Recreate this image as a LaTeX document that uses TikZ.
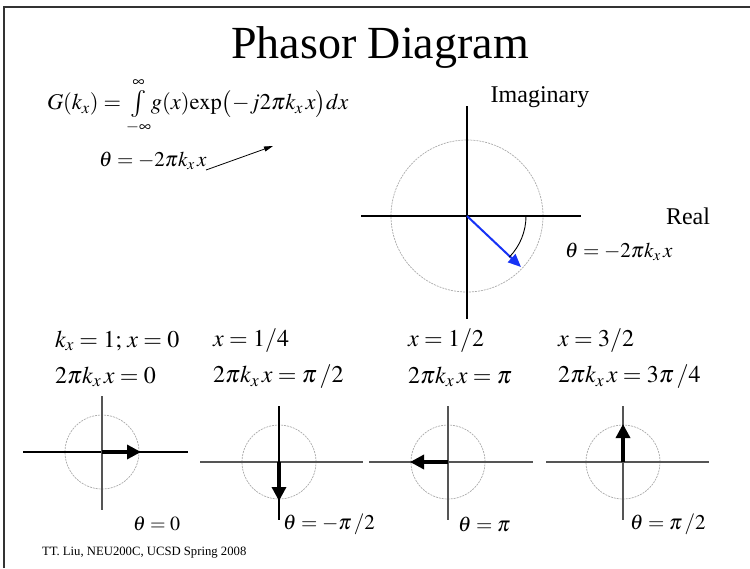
\documentclass[tikz,border=0pt]{standalone}
\usepackage{mathptmx}
\usepackage{fontspec}
\setmainfont{Liberation Serif}
\usetikzlibrary{arrows.meta}
\definecolor{framegray}{HTML}{333333}
\definecolor{circgray}{HTML}{AAAAAA}
\definecolor{axgray}{HTML}{555555}
\definecolor{phblue}{HTML}{1733F5}
\newcommand{\bigintegral}{\mathop{\vcenter{\hbox{\fontsize{27}{27}\selectfont$\int$}}}\limits}
\begin{document}
\begin{tikzpicture}[x=1pt,y=1pt,
  txt/.style={inner sep=0pt,outer sep=0pt},
  bigtxt/.style={txt,font=\fontsize{24}{28}\selectfont},
  midtxt/.style={txt,font=\fontsize{21}{25}\selectfont},
  unitcirc/.style={draw=circgray,line width=0.7pt,dash pattern=on 2pt off 1pt},
  mainaxis/.style={draw=black,line width=1.1pt},
  smallaxis/.style={draw=axgray,line width=1.3pt},
  phasor/.style={draw=black,line width=3.3pt,-{Triangle[length=14pt,width=14pt]}},
  bluephasor/.style={draw=phblue,line width=2pt,-{Triangle[length=13pt,width=11pt]}},
  pointer/.style={draw=black,line width=0.8pt,-{Triangle[length=9pt,width=5pt]}}]
\useasboundingbox (0,0) rectangle (750,-568);
% frame
\draw[framegray,line width=1.5pt] (4,-568) -- (4,-7) -- (750,-7);
% title
\node[txt,font=\fontsize{46}{52}\selectfont] (title) at (380,-48) {Phasor Diagram};
% equation
\node[txt,font=\fontsize{22.5}{27}\selectfont,anchor=west] (eq) at (47,-106) {$\thickmuskip=4mu G(k_x)=\bigintegral_{-\infty}^{\infty}\! g(x)\mathrm{exp}\bigl(-j2\pi k_x\, x\bigr)dx$};
\node[midtxt,anchor=west] (thlab) at (99,-161) {$\theta=-2\pi k_x\, x$};
\coordinate (ptr0) at (206,-170);
\coordinate (ptr1) at (273,-146);
\draw[pointer] (ptr0) -- (ptr1);
% main phasor diagram
\coordinate (O) at (467,-216);
\draw[unitcirc] (O) circle (76);
\coordinate (hl) at (361,-216);
\coordinate (hr) at (581,-216);
\coordinate (vt) at (467,-106);
\coordinate (vb) at (467,-319);
\draw[mainaxis] (hl) -- (hr);
\draw[mainaxis] (vt) -- (vb);
\coordinate (P) at (521,-267);
\draw[bluephasor] (O) -- (P);
\draw[black,line width=0.9pt] (526,-216) arc[start angle=0,end angle=-44,radius=59];
\node[bigtxt] (imag) at (540,-97) {Imaginary};
\node[bigtxt] (real) at (688,-216) {Real};
\node[midtxt,anchor=west] (thmain) at (565,-252) {$\theta=-2\pi k_x\, x$};
% labels row
\node[bigtxt,anchor=west] (l1a) at (55,-341) {$k_x=1;\,x=0$};
\node[bigtxt,anchor=west] (l1b) at (55,-377) {$2\pi k_x\, x=0$};
\node[bigtxt,anchor=west] (l2a) at (213,-341) {$x=1/4$};
\node[bigtxt,anchor=west] (l2b) at (213,-377) {$2\pi k_x\, x=\pi\,/2$};
\node[bigtxt,anchor=west] (l3a) at (408,-341) {$x=1/2$};
\node[bigtxt,anchor=west] (l3b) at (408,-377) {$2\pi k_x\, x=\pi$};
\node[bigtxt,anchor=west] (l4a) at (558,-341) {$x=3/2$};
\node[bigtxt,anchor=west] (l4b) at (558,-377) {$2\pi k_x\, x=3\pi\,/4$};
% small diagram 1
\coordinate (c1) at (102,-452);
\draw[unitcirc] (c1) circle (37);
\coordinate (c1l) at (23,-452);
\coordinate (c1r) at (188,-452);
\coordinate (c1t) at (102,-396);
\coordinate (c1b) at (102,-510);
\draw[mainaxis] (c1l) -- (c1r);
\draw[smallaxis] (c1t) -- (c1b);
\coordinate (a1) at (141,-452);
\draw[phasor] (c1) -- (a1);
% small diagram 2
\coordinate (c2) at (279,-462);
\draw[unitcirc] (c2) circle (37);
\coordinate (c2l) at (200,-462);
\coordinate (c2r) at (363,-462);
\coordinate (c2t) at (279,-406);
\coordinate (c2b) at (279,-520);
\draw[smallaxis] (c2l) -- (c2r);
\draw[draw=black,line width=1.1pt] (c2t) -- (c2b);
\coordinate (a2) at (279,-501);
\draw[phasor] (c2) -- (a2);
% small diagram 3
\coordinate (c3) at (448,-462);
\draw[unitcirc] (c3) circle (37);
\coordinate (c3l) at (369,-462);
\coordinate (c3r) at (533,-462);
\coordinate (c3t) at (448,-406);
\coordinate (c3b) at (448,-520);
\draw[smallaxis] (c3l) -- (c3r);
\draw[smallaxis] (c3t) -- (c3b);
\coordinate (a3) at (410,-462);
\draw[phasor] (c3) -- (a3);
% small diagram 4
\coordinate (c4) at (623,-462);
\draw[unitcirc] (c4) circle (37);
\coordinate (c4l) at (546,-462);
\coordinate (c4r) at (709,-462);
\coordinate (c4t) at (623,-406);
\coordinate (c4b) at (623,-520);
\draw[smallaxis] (c4l) -- (c4r);
\draw[smallaxis] (c4t) -- (c4b);
\coordinate (a4) at (623,-424);
\draw[phasor] (c4) -- (a4);
% theta labels
\node[midtxt,anchor=west,font=\fontsize{20}{24}\selectfont] (t1) at (133,-524) {$\theta=0$};
\node[midtxt,anchor=west] (t2) at (283,-524) {$\theta=-\pi\,/2$};
\node[midtxt,anchor=west] (t3) at (458,-524) {$\theta=\pi$};
\node[midtxt,anchor=west] (t4) at (630,-524) {$\theta=\pi\,/2$};
% footer
\node[txt,anchor=west,font=\fontsize{12.7}{15}\selectfont] (foot) at (42,-553) {TT. Liu, NEU200C, UCSD Spring 2008};
\end{tikzpicture}
\end{document}
